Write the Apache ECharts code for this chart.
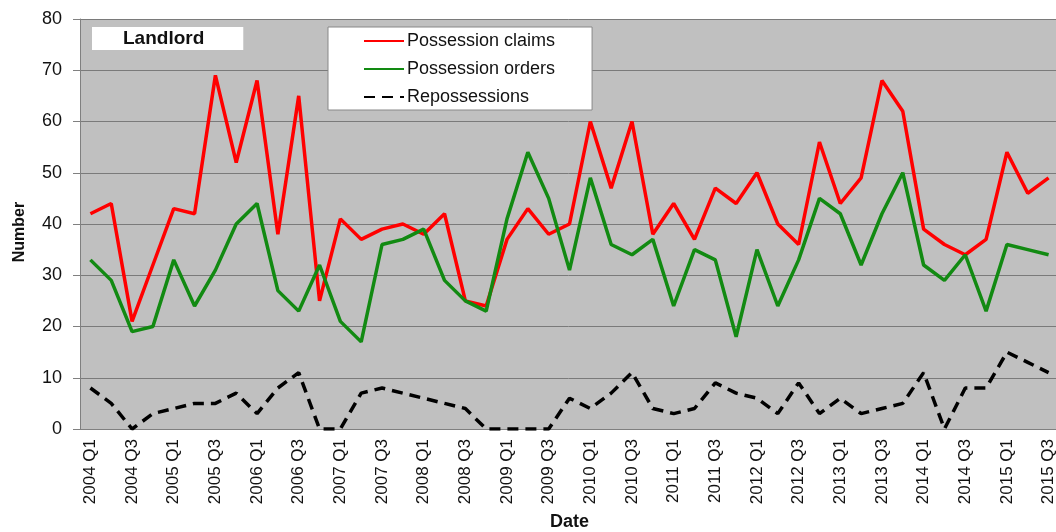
<!DOCTYPE html>
<html>
<head>
<meta charset="utf-8">
<script src="https://cdn.jsdelivr.net/npm/echarts@6/dist/echarts.min.js"></script>
<style>
  html, body { margin: 0; padding: 0; background: #fff; }
  #chart { width: 1056px; height: 532px; }
</style>
</head>
<body>
<div id="chart"></div>
<script>
// quarters 2004 Q1 .. 2015 Q3
var quarters = [];
for (var y = 2004; y <= 2015; y++) {
  for (var q = 1; q <= 4; q++) {
    if (y === 2015 && q === 4) break;
    quarters.push(y + ' Q' + q);
  }
}

var claims = [42,44,21,32,43,42,69,52,68,38, 65,25,41,37,39,40,38,42,25,24,
              37,43,38,40,60,47,60,38,44,37, 47,44,50,40,36,56,44,49,68,62,
              39,36,34,37,54,46,49];
var orders = [33,29,19,20,33,24,31,40,44,27, 23,32,21,17,36,37,39,29,25,23,
              41,54,45,31,49,36,34,37,24,35, 33,18,35,24,33,45,42,32,42,50,
              32,29,34,23,36,35,34];
var repossessions = [8,5,0,3,4,5,5,7,3,8, 11,0,0,7,8,7,6,5,4,0,
                     0,0,0,6,4,7,11,4,3,4, 9,7,6,3,9,3,6,3,4,5,
                     11,0,8,8,15,13,11];

var font = 'Liberation Sans, Arial, sans-serif';

var myChart = echarts.init(document.getElementById('chart'));
myChart.setOption({
  animation: false,
  textStyle: { fontFamily: font },
  title: {
    text: 'Landlord',
    left: 92,
    top: 27,
    backgroundColor: '#ffffff',
    padding: [2, 39, 2, 31],
    textStyle: { fontSize: 19, fontWeight: 'bold', color: '#111', fontFamily: font }
  },
  legend: {
    orient: 'vertical',
    left: 328,
    top: 27,
    backgroundColor: '#ffffff',
    borderColor: '#888',
    borderWidth: 1,
    padding: [5, 37, 4, 35],
    itemWidth: 40,
    itemHeight: 14,
    itemGap: 10,
    itemStyle: { opacity: 0 },
    textStyle: { fontSize: 18, color: '#111', fontFamily: font, padding: [0, 0, 0, -2] },
    data: ['Possession claims', 'Possession orders', 'Repossessions']
  },
  grid: {
    left: 80,
    top: 19,
    width: 979,
    height: 410,
    outerBoundsMode: 'none',
    show: true,
    backgroundColor: '#c0c0c0',
    borderWidth: 0
  },
  xAxis: {
    type: 'category',
    data: quarters,
    boundaryGap: true,
    name: 'Date',
    nameLocation: 'middle',
    nameGap: 84,
    nameTextStyle: { fontSize: 18, fontWeight: 'bold', color: '#111' },
    axisLine: { lineStyle: { color: '#808080', width: 1 } },
    axisTick: { interval: 0, length: 5, lineStyle: { color: '#808080' } },
    axisLabel: { interval: 1, rotate: 90, margin: 10, fontSize: 17, color: '#111' },
    splitLine: { show: false }
  },
  yAxis: {
    type: 'value',
    min: 0,
    max: 80,
    interval: 10,
    name: 'Number',
    nameLocation: 'middle',
    nameGap: 52,
    nameTextStyle: { fontSize: 16, fontWeight: 'bold', color: '#111', padding: [0, 16, 0, 0] },
    axisLine: { show: true, lineStyle: { color: '#808080', width: 1 } },
    axisTick: { show: true, length: 7, lineStyle: { color: '#808080' } },
    axisLabel: { margin: 18, fontSize: 18, color: '#111' },
    splitLine: { lineStyle: { color: '#7a7a7a', width: 1 } }
  },
  series: [
    {
      name: 'Possession claims',
      type: 'line',
      data: claims,
      symbol: 'none',
      color: '#ff0000',
      lineStyle: { color: '#ff0000', width: 3.5 }
    },
    {
      name: 'Possession orders',
      type: 'line',
      data: orders,
      symbol: 'none',
      color: '#128a12',
      lineStyle: { color: '#128a12', width: 3.5 }
    },
    {
      name: 'Repossessions',
      type: 'line',
      data: repossessions,
      symbol: 'none',
      color: '#000000',
      lineStyle: { color: '#000000', width: 3.5, type: [11, 7] }
    }
  ]
});
</script>
</body>
</html>
